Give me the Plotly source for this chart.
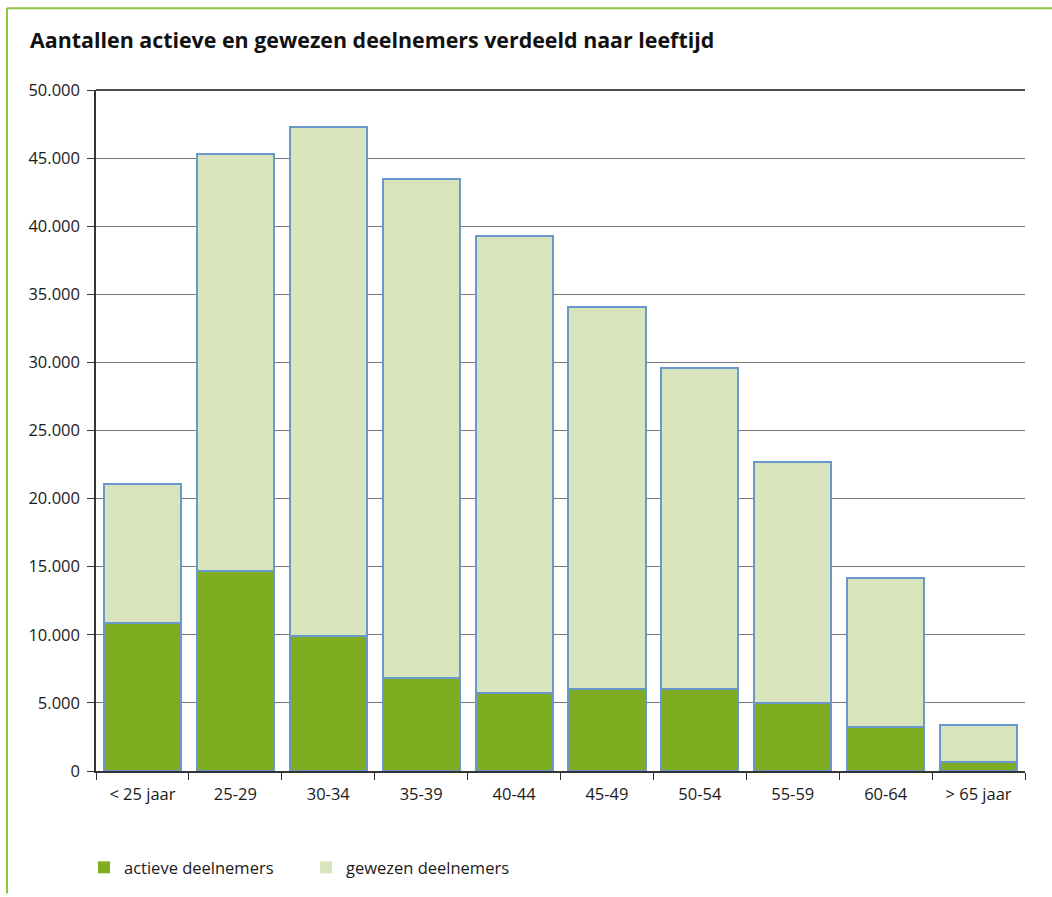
import plotly.graph_objects as go

categories = ["< 25 jaar", "25-29", "30-34", "35-39", "40-44", "45-49", "50-54", "55-59", "60-64", "> 65 jaar"]
actieve = [10900, 14700, 9900, 6850, 5700, 6000, 6000, 5000, 3200, 650]
totaal = [21050, 45300, 47300, 43500, 39300, 34100, 29600, 22700, 14200, 3400]
gewezen = [t - a for t, a in zip(totaal, actieve)]

y_ticks = [0, 5000, 10000, 15000, 20000, 25000, 30000, 35000, 40000, 45000, 50000]

C_ACT = "#7fad22"
C_GEW = "#d7e4bc"
C_EDGE = "#6a98cc"
C_FRAME = "#8cc63f"
FONT = "Open Sans"

W, H = 1052, 897
ml, mr, mt, mb = 96, 27, 90, 123
pw, ph = W - ml - mr, H - mt - mb

def px_x(p):
    return (p - ml) / pw

def px_y(p):
    return (H - mb - p) / ph

fig = go.Figure()
fig.add_trace(go.Bar(x=categories, y=actieve, name="actieve deelnemers",
                     marker=dict(color=C_ACT, line=dict(color=C_EDGE, width=2)),
                     showlegend=False))
fig.add_trace(go.Bar(x=categories, y=gewezen, name="gewezen deelnemers",
                     marker=dict(color=C_GEW, line=dict(color=C_EDGE, width=2)),
                     showlegend=False))
# legend entries without outline
fig.add_trace(go.Bar(x=[categories[0]], y=[None], name="actieve deelnemers",
                     marker=dict(color=C_ACT, line=dict(width=0))))
fig.add_trace(go.Bar(x=[categories[0]], y=[None], name="gewezen deelnemers",
                     marker=dict(color=C_GEW, line=dict(width=0))))

fig.update_layout(
    width=W, height=H,
    margin=dict(l=ml, r=mr, t=mt, b=mb),
    paper_bgcolor="white", plot_bgcolor="white",
    barmode="stack", bargap=0.17,
    separators=",.",
    font=dict(family=FONT, size=16.5, color="#1a1a1a"),
    title=dict(text="<b>Aantallen actieve en gewezen deelnemers verdeeld naar leeftijd</b>",
               xref="container", yref="container", x=30 / W, xanchor="left",
               y=1 - 41 / H, yanchor="middle",
               font=dict(family=FONT, size=21.4, color="#111")),
    legend=dict(orientation="h", x=px_x(84), xanchor="left", y=px_y(871), yanchor="middle",
                font=dict(family=FONT, size=16.5), entrywidth=177, entrywidthmode="pixels",
                traceorder="normal", bgcolor="rgba(0,0,0,0)"),
    xaxis=dict(showline=True, linecolor="#333", linewidth=1.5,
               ticks="outside", tickson="boundaries", ticklen=7, tickcolor="#333",
               showgrid=False, tickfont=dict(size=16.5), ticklabelstandoff=7),
    yaxis=dict(range=[0, 50000], tickvals=y_ticks, tickformat=",d",
               showline=True, linecolor="#333", linewidth=1.5,
               ticks="outside", ticklen=7, tickcolor="#333",
               showgrid=True, gridcolor="#777", gridwidth=1,
               zeroline=False, tickfont=dict(size=16.5), ticklabelstandoff=4),
    shapes=[
        dict(type="line", xref="paper", yref="paper", x0=px_x(7), x1=px_x(1052),
             y0=px_y(8), y1=px_y(8), line=dict(color=C_FRAME, width=2)),
        dict(type="line", xref="paper", yref="paper", x0=px_x(7), x1=px_x(7),
             y0=px_y(8), y1=px_y(897), line=dict(color=C_FRAME, width=2)),
        dict(type="line", xref="paper", yref="paper", x0=0, x1=1,
             y0=1, y1=1, line=dict(color="#111", width=1.5)),
    ],
)

fig.write_html("out.html")
